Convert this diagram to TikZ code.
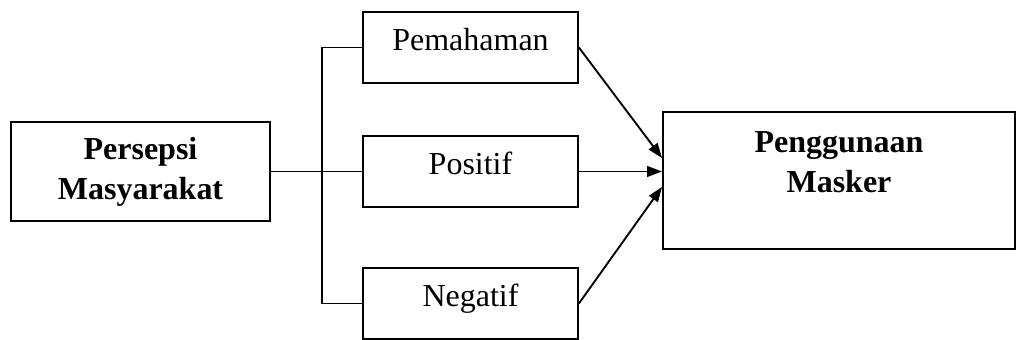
\documentclass[tikz,border=0pt]{standalone}
\usepackage{fontspec}
\setmainfont{Liberation Serif}
\usepackage{tikz}
\usetikzlibrary{arrows.meta, positioning}

\begin{document}
\begin{tikzpicture}[x=0.375pt, y=-0.375pt,
    line width=0.7pt,
    every node/.style={font=\fontsize{12}{15}\selectfont},
    box/.style={draw, inner sep=0pt},
    boldtext/.style={align=center, font=\fontsize{12}{15}\selectfont\bfseries},
    smallbox/.style={box, minimum width=80.6pt, minimum height=26.6pt, text height=0.7em, text depth=0.45em},
    arrowline/.style={-{Triangle[length=5.6pt, width=4pt]}}]
    \useasboundingbox (0,0) rectangle (1016,340);
    % Left box
    \node[box, boldtext, minimum width=97.1pt, minimum height=37.1pt] (persepsi) at (140.5,171.5) {Persepsi\\Masyarakat};
    % Middle boxes
    \node[smallbox] (pemahaman) at (470.5,47.5) {Pemahaman};
    \node[smallbox] (positif) at (470.5,171.5) {Positif};
    \node[smallbox] (negatif) at (470.5,303.5) {Negatif};
    % Right box
    \node[box, minimum width=132pt, minimum height=51.4pt] (masker) at (839,180.5) {};
    \node[boldtext, anchor=north, inner sep=0pt] (maskertext) at ([yshift=-7.2pt]masker.north) {Penggunaan\\Masker};
    % Branch lines
    \coordinate (split) at (322,171.5);
    \draw (persepsi.east) -- (positif.west);
    \draw (pemahaman.west) -| (split) |- (negatif.west);
    % Arrows
    \draw[arrowline] (pemahaman.east) -- ([yshift=8.4pt]masker.west);
    \draw[arrowline] (positif.east) -- (positif.east -| masker.west);
    \draw[arrowline] (negatif.east) -- ([yshift=-2.4pt]masker.west);
\end{tikzpicture}
\end{document}
